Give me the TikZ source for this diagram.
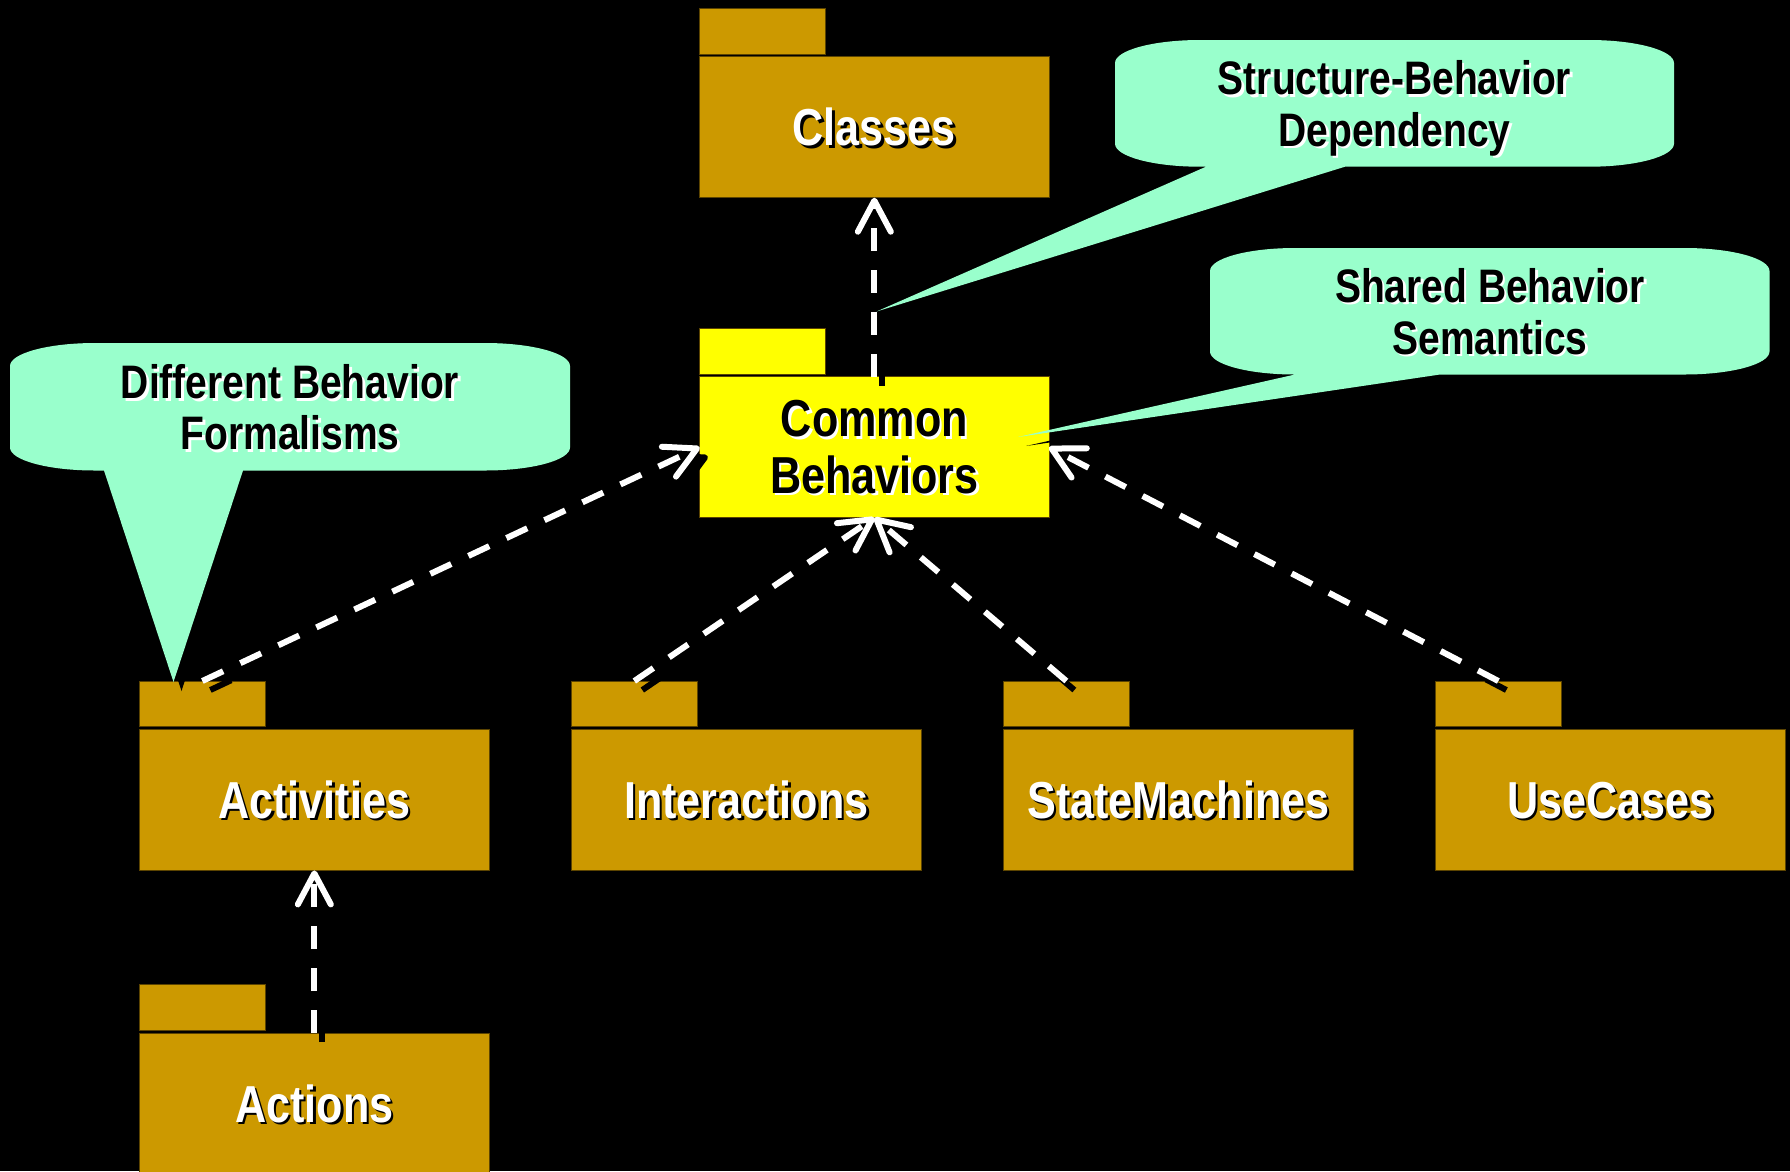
\documentclass[tikz,border=0pt]{standalone}
\usepackage{fontspec}
\setmainfont{Liberation Sans}[FakeStretch=0.83]
\usetikzlibrary{arrows.meta,calc}

\definecolor{pkggold}{HTML}{CC9900}
\definecolor{pkgyellow}{HTML}{FFFF00}
\definecolor{pkgedge}{HTML}{5C4400}
\definecolor{notemint}{HTML}{99FFCC}

\tikzset{
  pkgtab/.style={draw=pkgedge, line width=1pt, minimum width=125.3pt,
    minimum height=45.7pt, anchor=north west, inner sep=0pt, outer sep=0pt},
  pkgbody/.style={draw=pkgedge, line width=1pt, minimum width=349.3pt,
    minimum height=141pt, anchor=north west, inner sep=0pt, outer sep=0pt},
  pkglabel/.style={font=\fontsize{52}{56}\selectfont\bfseries, anchor=base, inner sep=0pt},
  notelabel/.style={font=\fontsize{47}{51}\selectfont\bfseries, anchor=base, inner sep=0pt},
  depline/.style={draw=white, line width=6pt, dash pattern=on 23pt off 19pt,
    -{Straight Barb[length=31pt,width=33pt,round]}},
  depshadow/.style={depline, draw=black, transform canvas={shift={(8pt,-9pt)}}},
  noteshape/.style={fill=notemint},
  noteshadow/.style={fill=black, transform canvas={shift={(8pt,-9pt)}}},
}

% corner radii of the note balloons
\def\crx{85}
\def\cry{23}

% package symbol: tab above a body node; #1 name, #2 x, #3 y of tab top, #4 fill
\newcommand\umlpackage[4]{%
  \node[pkgtab, fill=#4] (#1tab) at (#2,#3) {};
  \node[pkgbody, fill=#4] (#1) at (#2,#3+48.4) {};}

% white package name with a black drop shadow
\newcommand\pkgname[2]{%
  \node[pkglabel, text=black] (#1-shade) at ($(#1.center)+(2.5pt,-21pt)$) {#2};
  \node[pkglabel, text=white] (#1-name) at ($(#1.center)+(0pt,-18.5pt)$) {#2};}

% black note text with a white drop shadow; #2 centre x, #3 baseline y
\newcommand\notetext[4]{%
  \node[notelabel, text=white] (#1-shade) at (#2+2.5,#3+2.5) {#4};
  \node[notelabel, text=black] (#1) at (#2,#3) {#4};}

% balloon outline: box (#1,#2)-(#3,#4), tail base #5..#6 on the lower edge, tip (#7,#8)
\newcommand\balloon[8]{%
  (#1,#2+\cry) arc[start angle=180, end angle=270, x radius=\crx, y radius=\cry]
  -- (#3-\crx,#2) arc[start angle=270, end angle=360, x radius=\crx, y radius=\cry]
  -- (#3,#4-\cry) arc[start angle=0, end angle=90, x radius=\crx, y radius=\cry]
  -- (#6,#4) -- (#7,#8) -- (#5,#4)
  -- (#1+\crx,#4) arc[start angle=90, end angle=180, x radius=\crx, y radius=\cry]
  -- cycle}

\begin{document}
\begin{tikzpicture}[x=1pt, y=-1pt]
\useasboundingbox (0,0) rectangle (1790,1171);
\fill[black] (0,0) rectangle (1790,1171);
\clip (0,0) rectangle (1790,1171);

% packages
\umlpackage{classes}{699.7}{8.3}{pkggold}
\umlpackage{common}{699.7}{328.3}{pkgyellow}
\umlpackage{activities}{139.7}{681}{pkggold}
\umlpackage{interactions}{571.7}{681}{pkggold}
\umlpackage{statemachines}{1003.7}{681}{pkggold}
\umlpackage{usecases}{1435.7}{681}{pkggold}
\umlpackage{actions}{139.7}{984.7}{pkggold}

\pkgname{classes}{Classes}
\pkgname{activities}{Activities}
\pkgname{interactions}{Interactions}
\pkgname{statemachines}{StateMachines}
\pkgname{usecases}{UseCases}
\pkgname{actions}{Actions}

% the highlighted package: black name, white shadow
\node[pkglabel, text=white] (common-shade1) at ($(common.center)+(2.5pt,8pt)$) {Common};
\node[pkglabel, text=black] (common-name1) at ($(common.center)+(0pt,10.5pt)$) {Common};
\node[pkglabel, text=white] (common-shade2) at ($(common.center)+(2.5pt,-48.6pt)$) {Behaviors};
\node[pkglabel, text=black] (common-name2) at ($(common.center)+(0pt,-46.1pt)$) {Behaviors};

% note balloons
\fill[noteshadow] \balloon{1115}{40}{1674}{166.7}{1206}{1345}{876.5}{311.5};
\fill[noteshadow] \balloon{1210}{248}{1769.5}{374.5}{1295}{1440}{1018}{437};
\fill[noteshadow] \balloon{10}{343}{570}{470.5}{104}{243}{173.5}{682};
\fill[noteshape] \balloon{1115}{40}{1674}{166.7}{1206}{1345}{876.5}{311.5};
\fill[noteshape] \balloon{1210}{248}{1769.5}{374.5}{1295}{1440}{1018}{437};
\fill[noteshape] \balloon{10}{343}{570}{470.5}{104}{243}{173.5}{682};

\notetext{sbd1}{1394.5}{94.5}{Structure-Behavior}
\notetext{sbd2}{1394.5}{146}{Dependency}
\notetext{sbs1}{1490}{302}{Shared Behavior}
\notetext{sbs2}{1490}{354}{Semantics}
\notetext{dbf1}{290}{398.5}{Different Behavior}
\notetext{dbf2}{290}{449.5}{Formalisms}

% dependencies: shadows first, then the white dashed arrows
\draw[depshadow] (actions.north) -- (activities.south);
\draw[depshadow] (common.north) -- (classes.south);
\draw[depshadow] (activitiestab.north) -- (common.west);
\draw[depshadow] (interactionstab.north) -- (common.south);
\draw[depshadow] (statemachinestab.north) -- (common.south);
\draw[depshadow] (usecasestab.north) -- (common.east);

\draw[depline] (actions.north) -- (activities.south);
\draw[depline] (common.north) -- (classes.south);
\draw[depline] (activitiestab.north) -- (common.west);
\draw[depline] (interactionstab.north) -- (common.south);
\draw[depline] (statemachinestab.north) -- (common.south);
\draw[depline] (usecasestab.north) -- (common.east);
\end{tikzpicture}
\end{document}
